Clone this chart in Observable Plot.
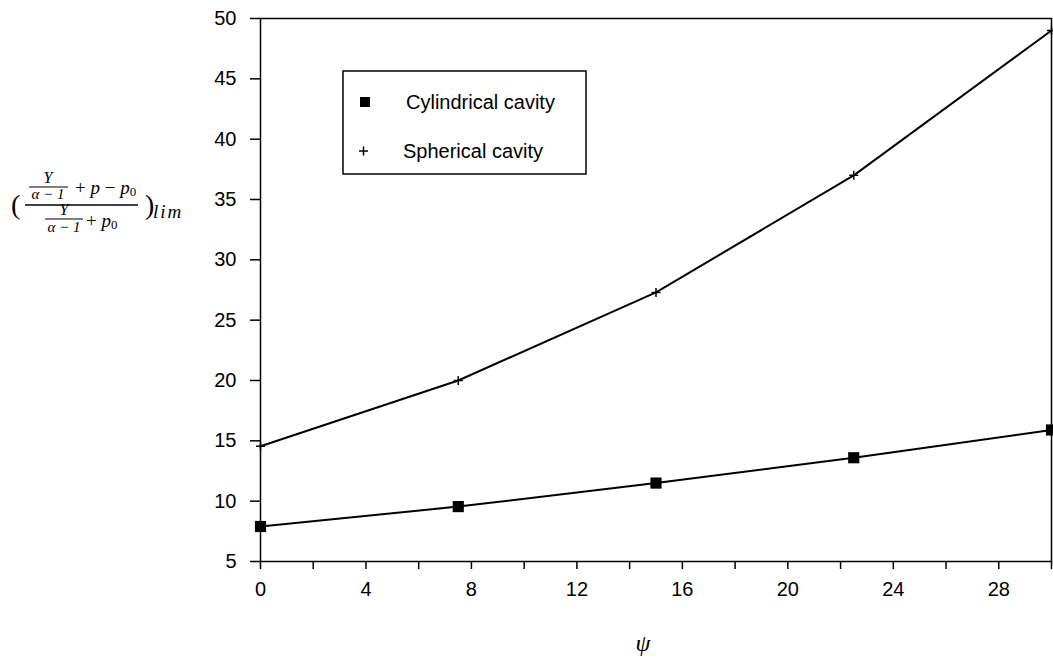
<!DOCTYPE html>
<html>
<head>
<meta charset="utf-8">
<script src="https://cdn.jsdelivr.net/npm/d3@7"></script>
<script src="https://cdn.jsdelivr.net/npm/@observablehq/plot@0.6"></script>
<style>
  html, body { margin: 0; padding: 0; background: #fff; }
  #chart { position: relative; width: 1053px; height: 664px; }
  #chart > svg { position: absolute; left: 0; top: 0; }
</style>
</head>
<body>
<div id="chart"></div>
<script>
// Dilatation angle ψ (degrees) at which the limit ratio was computed
const psi = [0, 7.5, 15, 22.5, 30];
// Limit pressure ratio for each cavity shape
const cylindrical = [7.9, 9.55, 11.5, 13.6, 15.9];
const spherical = [14.55, 20.0, 27.3, 37.0, 49.0];
const seriesNames = ["Cylindrical cavity", "Spherical cavity"];
const xTicks = [0, 2, 4, 6, 8, 10, 12, 14, 16, 18, 20, 22, 24, 26, 28, 30];
const yTicks = [5, 10, 15, 20, 25, 30, 35, 40, 45, 50];

const rows = [
  ...psi.map((x, i) => ({psi: x, value: cylindrical[i], series: seriesNames[0]})),
  ...psi.map((x, i) => ({psi: x, value: spherical[i], series: seriesNames[1]}))
];

// thin stroked "+" marker
const thinPlus = {
  draw(ctx, size) {
    const r = Math.sqrt(size / Math.PI);
    ctx.moveTo(-r, 0); ctx.lineTo(r, 0);
    ctx.moveTo(0, -r); ctx.lineTo(0, r);
  }
};

const W = 1053, H = 664;
const plot = Plot.plot({
  width: W,
  height: H,
  marginLeft: 260,
  marginRight: 2,
  marginTop: 18,
  marginBottom: 103,
  x: {domain: [0, 30]},
  y: {domain: [5, 50]},
  style: {fontFamily: "'Liberation Sans', Arial, sans-serif", fontSize: "20px", color: "black", background: "white"},
  marks: [
    Plot.frame({stroke: "black", strokeWidth: 1.5}),
    Plot.axisY({ticks: yTicks, tickSize: 10, tickPadding: 14, label: null, fontSize: 20, strokeWidth: 1.5}),
    Plot.axisX({ticks: xTicks, tickSize: 8, tickPadding: 12, label: null, fontSize: 20, strokeWidth: 1.5,
      tickFormat: d => d % 4 === 0 ? String(d) : ""}),
    Plot.line(rows, {x: "psi", y: "value", z: "series", stroke: "black", strokeWidth: 2}),
    Plot.dot(rows.filter(d => d.series === seriesNames[0]), {x: "psi", y: "value", symbol: "square", r: 6.3, fill: "black"}),
    Plot.dot(rows.filter(d => d.series === seriesNames[1]), {x: "psi", y: "value", symbol: thinPlus, r: 4.5, stroke: "black", strokeWidth: 1.5, fill: "none"})
  ]
});
document.getElementById("chart").appendChild(plot);

// Overlay: legend box, y-axis expression and x-axis symbol
const ov = d3.select("#chart").append("svg")
  .attr("width", W).attr("height", H)
  .style("pointer-events", "none");

// legend
const lg = ov.append("g").attr("font-family", "'Liberation Sans', Arial, sans-serif").attr("font-size", 20);
lg.append("rect").attr("x", 343).attr("y", 71).attr("width", 243).attr("height", 103)
  .attr("fill", "white").attr("stroke", "black").attr("stroke-width", 1.5);
lg.append("rect").attr("x", 360).attr("y", 97).attr("width", 10).attr("height", 10).attr("fill", "black");
lg.append("text").attr("x", 406).attr("y", 109).text(seriesNames[0]);
lg.append("path").attr("d", "M359,151H368M363.5,146.5V155.5").attr("stroke", "black").attr("stroke-width", 1.5);
lg.append("text").attr("x", 403).attr("y", 158).text(seriesNames[1]);

// y-axis expression: ( (Y/(α−1) + p − p₀) / (Y/(α−1) + p₀) )_lim
const ex = ov.append("g").attr("font-family", "'Liberation Serif', 'DejaVu Serif', serif").attr("fill", "black");
const t = (x, y, s, size, anchor, italic) => ex.append("text").attr("x", x).attr("y", y)
  .attr("font-size", size).attr("text-anchor", anchor || "start")
  .attr("font-style", italic ? "italic" : "normal").text(s);
const bar = (x1, x2, y, w) => ex.append("line").attr("x1", x1).attr("x2", x2).attr("y1", y).attr("y2", y)
  .attr("stroke", "black").attr("stroke-width", w || 1.2);

t(11, 214, "(", 28);
bar(25, 138, 205, 1.4);
// numerator
t(48, 183, "Y", 16, "middle", true);
bar(29, 68, 187);
t(48, 199, "α − 1", 15, "middle", true);
ex.append("text").attr("x", 75).attr("y", 194).attr("font-size", 19)
  .html('+ <tspan font-style="italic">p</tspan> − <tspan font-style="italic">p</tspan><tspan font-size="13" dy="2">0</tspan>');
// denominator
t(64, 215, "Y", 16, "middle", true);
bar(45, 83, 219);
t(64, 232, "α − 1", 15, "middle", true);
ex.append("text").attr("x", 86).attr("y", 227).attr("font-size", 19)
  .html('+ <tspan font-style="italic">p</tspan><tspan font-size="13" dy="2">0</tspan>');
t(145, 214, ")", 28);
t(153, 218, "lim", 19, "start", true).attr("letter-spacing", 2);

// x-axis symbol
t(643, 651, "ψ", 24, "middle", true);
</script>
</body>
</html>
